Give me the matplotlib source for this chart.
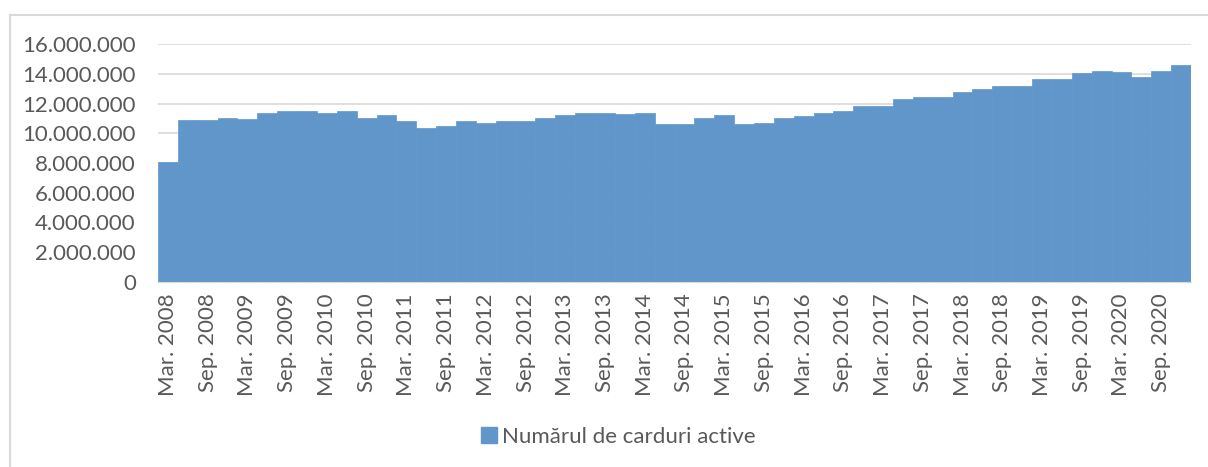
import matplotlib.pyplot as plt
from matplotlib.lines import Line2D
from matplotlib.ticker import FuncFormatter

# date trimestriale Mar. 2008 - Dec. 2020
ani = list(range(2008, 2021))
luni = ['Mar.', 'Iun.', 'Sep.', 'Dec.']
perioade = [f'{l} {a}' for a in ani for l in luni]

# numarul de carduri active (milioane)
carduri_mil = [
    8.07, 10.86, 10.86, 11.02, 10.93, 11.38, 11.47, 11.47,
    11.38, 11.47, 11.02, 11.20, 10.79, 10.32, 10.50, 10.79,
    10.68, 10.79, 10.79, 11.02, 11.20, 11.38, 11.38, 11.29,
    11.38, 10.59, 10.59, 11.02, 11.20, 10.59, 10.68, 11.02,
    11.13, 11.38, 11.47, 11.80, 11.80, 12.32, 12.41, 12.41,
    12.75, 12.99, 13.17, 13.17, 13.62, 13.62, 14.05, 14.20,
    14.14, 13.80, 14.20, 14.59,
]
carduri = [v * 1e6 for v in carduri_mil]

plt.rcParams['font.family'] = ['Lato', 'DejaVu Sans']
gri = '#595959'
albastru = '#6196CA'

fig = plt.figure(figsize=(12.08, 4.67), dpi=100)
ax = fig.add_axes([158 / 1208, 1 - 282 / 467, 1033 / 1208, 238 / 467])

x = range(len(carduri))
ax.bar(x, carduri, width=1.0, color=albastru, edgecolor=albastru, linewidth=0.5,
       label='Numărul de carduri active', zorder=2)

ax.set_xlim(-0.5, len(carduri) - 0.5)
ax.set_ylim(0, 16e6)
ax.set_yticks(range(0, 16000001, 2000000))
ax.yaxis.set_major_formatter(FuncFormatter(lambda v, p: f'{int(v):,}'.replace(',', '.')))
ax.grid(axis='y', color='#D9D9D9', linewidth=1.2, zorder=0)
ax.set_axisbelow(True)

ax.set_xticks(list(x)[::2])
ax.set_xticklabels(perioade[::2], rotation=90, fontsize=16, color=gri)
ax.tick_params(axis='y', labelsize=16, labelcolor=gri, length=0, pad=16)
ax.tick_params(axis='x', length=0, pad=8)

for s in ['top', 'right', 'left']:
    ax.spines[s].set_visible(False)
ax.spines['bottom'].set_color('#D9D9D9')

handle = Line2D([], [], marker='s', linestyle='none', markersize=11,
                markerfacecolor=albastru, markeredgecolor=albastru)
fig.legend([handle], ['Numărul de carduri active'], loc='center',
           bbox_to_anchor=(617 / 1208, 1 - 437 / 467), frameon=False,
           fontsize=16, labelcolor=gri, handletextpad=0.1, handlelength=1.0)

# chenarul graficului
fig.add_artist(Line2D([10 / 1208, 1], [1 - 15 / 467] * 2, color='#D9D9D9', linewidth=1.5))
fig.add_artist(Line2D([10 / 1208] * 2, [0, 1 - 15 / 467], color='#D9D9D9', linewidth=1.5))

fig.savefig('out.png', dpi=100)
